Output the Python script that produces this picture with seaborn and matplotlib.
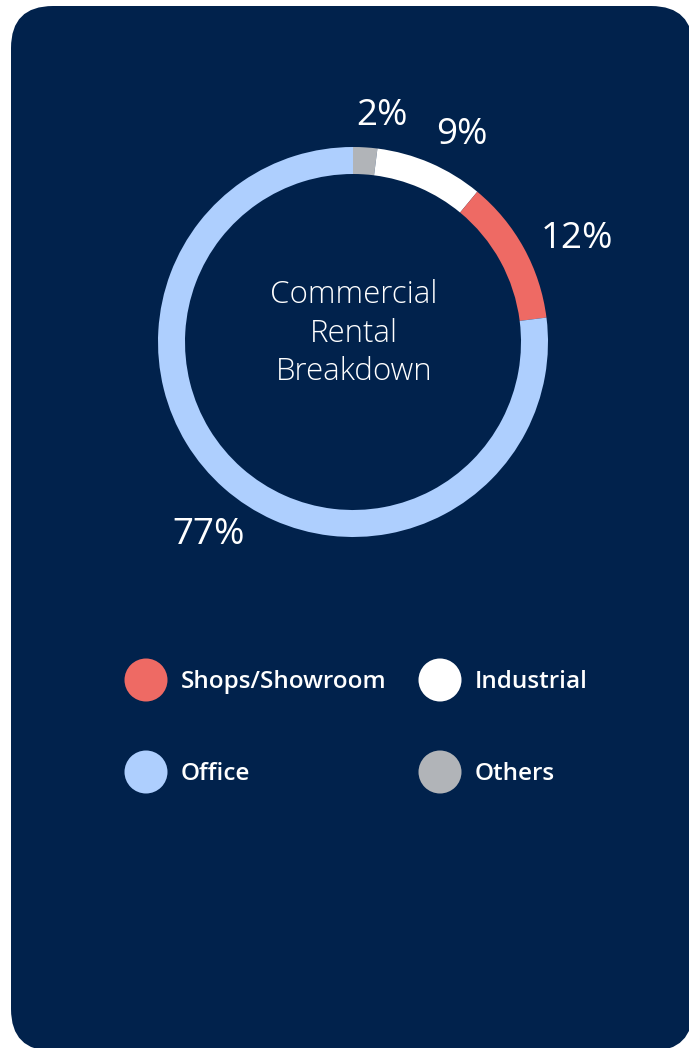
import matplotlib
matplotlib.use("Agg")
import matplotlib.pyplot as plt
from matplotlib.patches import FancyBboxPatch
import seaborn as sns

# Commercial rental mix, listed clockwise from 12 o'clock
segments = ["Others", "Industrial", "Shops/Showroom", "Office"]
shares = [2, 9, 12, 77]
segment_colors = ["#B1B4B8", "#FFFFFF", "#EE6A64", "#AECFFE"]

# Legend order (row by row, two columns)
legend_order = ["Shops/Showroom", "Industrial", "Office", "Others"]

center_lines = ["Commercial", "Rental", "Breakdown"]

NAVY = "#01224C"

sns.set_theme(style="white")
plt.rcParams["font.family"] = ["Open Sans", "DejaVu Sans"]

palette = dict(zip(segments, sns.color_palette(segment_colors)))

W, H, DPI = 689, 1048, 100
fig = plt.figure(figsize=(W / DPI, H / DPI), dpi=DPI)
fig.patch.set_facecolor("white")

# Rounded navy card behind everything
card = FancyBboxPatch((0.11, -0.03), 6.82, 10.45,
                      boxstyle="round,pad=0,rounding_size=0.42",
                      transform=fig.dpi_scale_trans,
                      facecolor=NAVY, edgecolor="none", zorder=-10)
fig.patches.append(card)

# Donut axes: centre at (353, 342) px, outer radius 195 px
cx, cy, R = 353, 342, 195
lim = 1.4
side = 2 * lim * R
ax = fig.add_axes([(cx - side / 2) / W, (H - cy - side / 2) / H, side / W, side / H])
ax.set_facecolor("none")
ax.set_zorder(1)

wedges, _, pct_texts = ax.pie(
    shares,
    colors=[palette[s] for s in segments],
    startangle=90,
    counterclock=False,
    radius=1.0,
    wedgeprops=dict(width=27 / R, linewidth=0),
    autopct=lambda p: f"{p:.0f}%",
    pctdistance=1.23,
)
for t in pct_texts:
    x, y = t.get_position()
    # nudge labels slightly right/down of the wedge bisector
    t.set_position((x + 14 / R, y - 13 / R))
    t.set_color("white")
    t.set_fontsize(26.5)
    t.set_fontweight("medium")

ax.set_xlim(-lim, lim)
ax.set_ylim(-lim, lim)
ax.set_aspect("equal")
ax.axis("off")

# Centre caption, one text per line (baselines 38.5 px apart)
for k, line in enumerate(center_lines):
    ax.text(0.005, (342 - 303 - 38.5 * k) / R, line, ha="center", va="baseline",
            color="white", fontsize=22.5, fontweight="light")

# Legend: two columns of round swatches
lax = fig.add_axes([0, 0, 1, 1])
lax.set_zorder(1)
lax.set_xlim(0, W)
lax.set_ylim(H, 0)
lax.axis("off")
lax.set_facecolor("none")
col_x = [146, 440]
row_y = [680, 772]
for i, name in enumerate(legend_order):
    x = col_x[i % 2]
    y = row_y[i // 2]
    lax.scatter([x], [y], s=(43 * 72 / DPI) ** 2, color=palette[name],
                edgecolors="none")
    lax.text(x + 35, y + 8.5, name, ha="left", va="baseline", color="white",
             fontsize=17.5, fontweight="semibold")

fig.savefig("out.png", dpi=DPI, facecolor=fig.get_facecolor())
